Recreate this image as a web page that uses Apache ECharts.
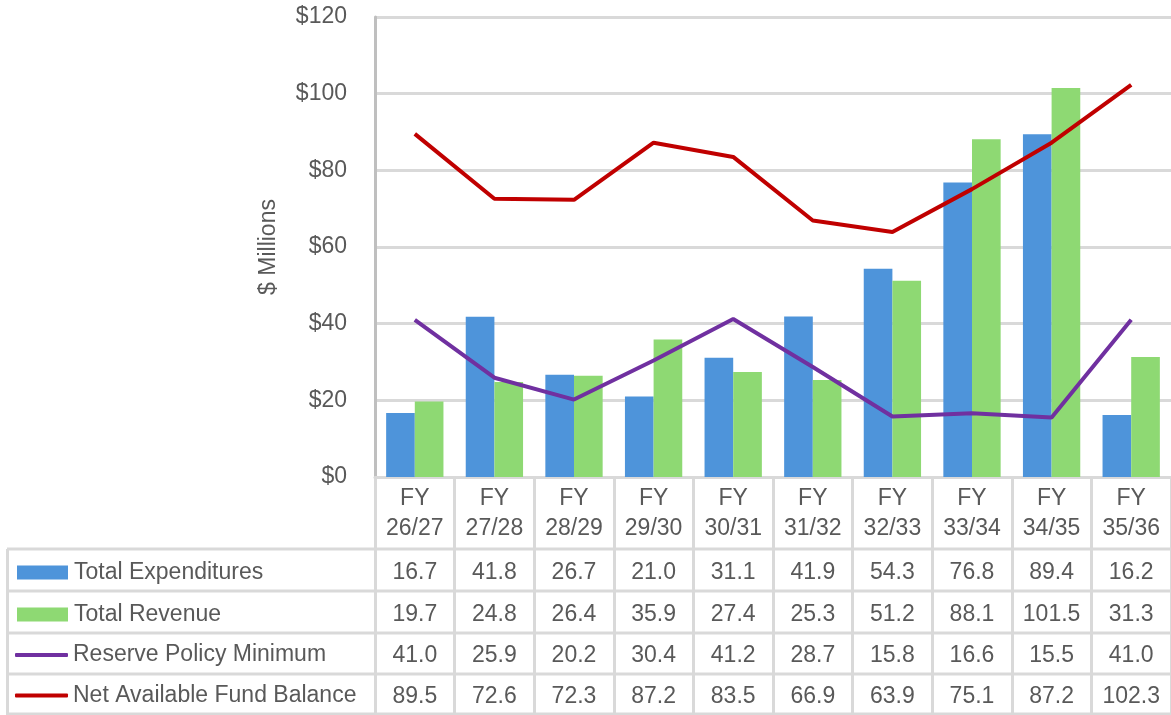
<!DOCTYPE html>
<html><head><meta charset="utf-8">
<script src="https://cdn.jsdelivr.net/npm/echarts@6/dist/echarts.min.js"></script>
<style>html,body{margin:0;padding:0;background:#fff}#c{width:1171px;height:715px}</style>
</head><body><div id="c"></div>
<script>
const categories = ['FY 26/27','FY 27/28','FY 28/29','FY 29/30','FY 30/31','FY 31/32','FY 32/33','FY 33/34','FY 34/35','FY 35/36'];
const seriesNames = ['Total Expenditures','Total Revenue','Reserve Policy Minimum','Net Available Fund Balance'];
const expenditures = [16.7,41.8,26.7,21.0,31.1,41.9,54.3,76.8,89.4,16.2];
const revenue = [19.7,24.8,26.4,35.9,27.4,25.3,51.2,88.1,101.5,31.3];
const reserveMin = [41.0,25.9,20.2,30.4,41.2,28.7,15.8,16.6,15.5,41.0];
const netBalance = [89.5,72.6,72.3,87.2,83.5,66.9,63.9,75.1,87.2,102.3];
const yMin = 0, yMax = 120, yStep = 20;

const FONT = 'Liberation Sans';
const TXT = '#595959';
const GRIDC = '#d9d9d9';
const colors = ['#4E94DA','#8ED973','#7030A0','#C00000'];
const FS = 23;

const rowLines = [549, 591, 633, 674, 714];
const rowCenters = rowLines.slice(0,4).map((y,i)=>(y+rowLines[i+1])/2);

const chart = echarts.init(document.getElementById('c'), null, {renderer:'canvas'});
const legends = seriesNames.map((n,i)=>{
  const isLine = i>=2;
  const h = isLine ? 4 : 14;
  return {
    orient:'horizontal', left: isLine?15:17, top: rowCenters[i]-13 + (isLine?0:1), padding:0,
    itemWidth: isLine?53:51, itemHeight:h, icon: isLine?'roundRect':'rect',
    selectedMode:false,
    textStyle:{fontFamily:FONT, fontSize:FS, color:TXT, lineHeight:26, padding:[3,0,0, isLine?0:1]},
    data:[{name:n}]
  };
});
const option = {
  animation:false,
  textStyle:{fontFamily:FONT},
  grid:{left:375, right:0, top:17, height:460, containLabel:false},
  legend: legends,
  xAxis:{
    type:'category', data:categories, boundaryGap:true,
    axisLine:{show:true, lineStyle:{color:GRIDC, width:3}},
    axisTick:{show:true, length:238, lineStyle:{color:GRIDC, width:3}},
    axisLabel:{fontFamily:FONT, fontSize:FS, color:TXT, lineHeight:30, margin:7,
      formatter:v=>v.replace(' ','\n')}
  },
  yAxis:{
    type:'value', min:yMin, max:yMax, interval:yStep,
    name:'$ Millions', nameLocation:'middle', nameGap:95,
    nameTextStyle:{fontFamily:FONT, fontSize:FS, color:TXT},
    axisLine:{show:true, lineStyle:{color:'#bfbfbf', width:3}},
    axisTick:{show:false},
    axisLabel:{fontFamily:FONT, fontSize:FS, color:TXT, margin:28, formatter:v=>'$'+v},
    splitLine:{lineStyle:{color:GRIDC, width:3}}
  },
  series:[
    {name:seriesNames[0], type:'bar', data:expenditures, itemStyle:{color:colors[0]}, barGap:'0%', barCategoryGap:'28%'},
    {name:seriesNames[1], type:'bar', data:revenue, itemStyle:{color:colors[1]}, barGap:'0%', barCategoryGap:'28%'},
    {name:seriesNames[2], type:'line', data:reserveMin, symbol:'none', showSymbol:false, lineStyle:{color:colors[2], width:4}, itemStyle:{color:colors[2]}},
    {name:seriesNames[3], type:'line', data:netBalance, symbol:'none', showSymbol:false, lineStyle:{color:colors[3], width:4}, itemStyle:{color:colors[3]}}
  ]
};
chart.setOption(option);

// Data table below the axis, positioned from the category axis scale
const rows = [expenditures, revenue, reserveMin, netBalance];
const gfx = [];
rowLines.forEach(y=>{
  gfx.push({type:'line', shape:{x1:7, y1:y, x2:1171, y2:y}, style:{stroke:GRIDC, lineWidth:3}, silent:true, z:-1});
});
gfx.push({type:'line', shape:{x1:7.5, y1:549, x2:7.5, y2:715}, style:{stroke:GRIDC, lineWidth:3}, silent:true, z:-1});
rows.forEach((arr, r)=>{
  const cy = rowCenters[r];
  arr.forEach((v,i)=>{
    const cx = chart.convertToPixel({xAxisIndex:0}, i);
    gfx.push({type:'text', x:cx, y:cy+2.5, silent:true,
      style:{text:v.toFixed(1), fontFamily:FONT, fontSize:FS, fill:TXT, align:'center', verticalAlign:'middle'}});
  });
});
chart.setOption({graphic:gfx});
</script></body></html>
